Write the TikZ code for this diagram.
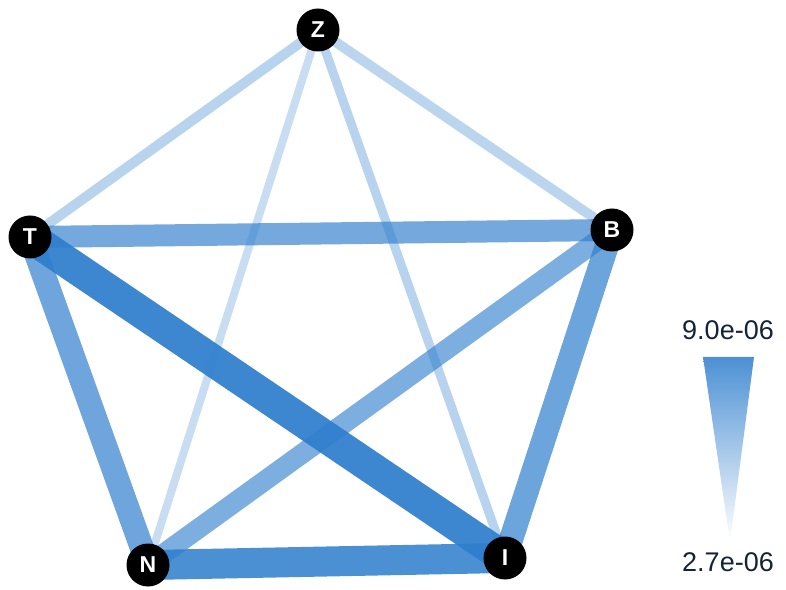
\documentclass[tikz,border=0pt]{standalone}
\usepackage{fontspec}
\setmainfont{Liberation Sans}
\usetikzlibrary{backgrounds}
\definecolor{edgeblue}{RGB}{45,125,205}
\definecolor{labelink}{RGB}{20,35,55}

\begin{document}
\begin{tikzpicture}[x=1pt,y=1pt,
  vertex/.style={circle,fill=black,inner sep=0pt,minimum size=43pt,text=white,font=\fontsize{23}{23}\selectfont\bfseries},
  link/.style 2 args={draw=edgeblue,line width=#1pt,draw opacity=#2},
  scalelabel/.style={text=labelink,font=\fontsize{27}{27}\selectfont,inner sep=0pt}]
  \useasboundingbox (0,0) rectangle (786,589);
  \node[vertex] (Z) at (318,559) {Z};
  \node[vertex] (T) at (30,352) {T};
  \node[vertex] (B) at (612,359) {B};
  \node[vertex] (N) at (148,24) {N};
  \node[vertex] (I) at (505,31) {I};
  \begin{scope}[on background layer]
    \draw[link={10}{0.34}] (Z.center) -- (T.center);
    \draw[link={10}{0.32}] (Z.center) -- (B.center);
    \draw[link={8}{0.26}] (Z.center) -- (N.center);
    \draw[link={9}{0.34}] (Z.center) -- (I.center);
    \draw[link={22}{0.66}] (T.center) -- (B.center);
    \draw[link={24}{0.69}] (T.center) -- (N.center);
    \draw[link={32}{0.92}] (T.center) -- (I.center);
    \draw[link={20}{0.62}] (N.center) -- (B.center);
    \draw[link={24}{0.70}] (B.center) -- (I.center);
    \draw[link={30}{0.85}] (N.center) -- (I.center);
  \end{scope}
  % colour scale
  \shade[top color=edgeblue!85!white,bottom color=white] (703,232) -- (754,232) -- (730,47) -- cycle;
  \node[scalelabel] (hi) at (728,259) {9.0e-06};
  \node[scalelabel] (lo) at (728,27) {2.7e-06};
\end{tikzpicture}
\end{document}
